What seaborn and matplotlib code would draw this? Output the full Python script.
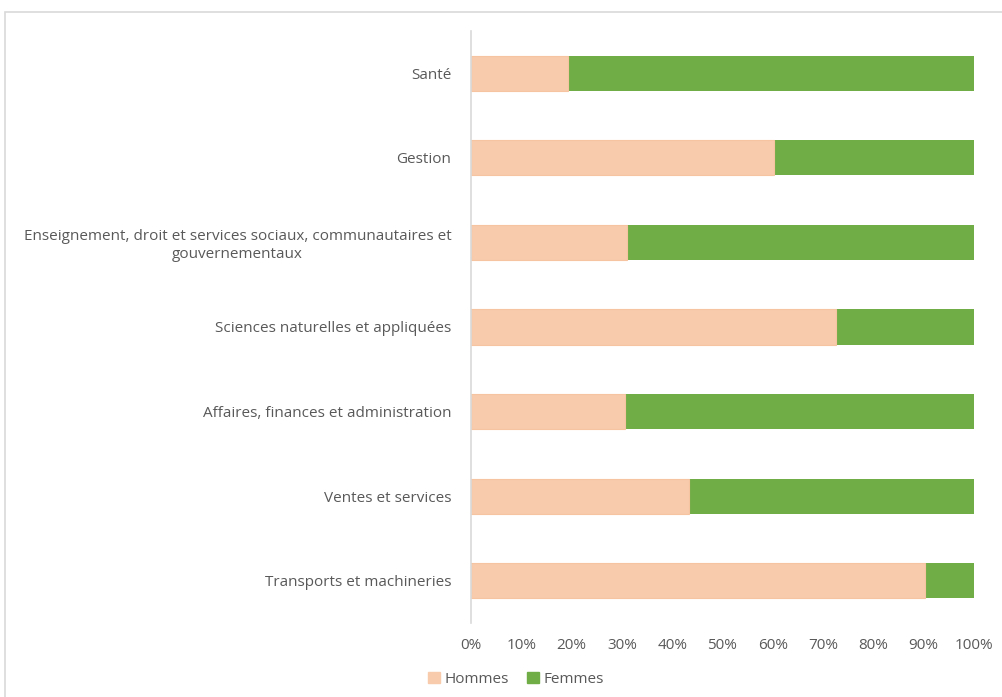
import matplotlib.pyplot as plt
import seaborn as sns
import pandas as pd
from matplotlib.patches import Rectangle, Patch

# données (% hommes / % femmes par catégorie)
categories = [
    "Santé",
    "Gestion",
    "Enseignement, droit et services sociaux, communautaires et\ngouvernementaux",
    "Sciences naturelles et appliquées",
    "Affaires, finances et administration",
    "Ventes et services",
    "Transports et machineries",
]
hommes = [19.3, 60.2, 31.0, 72.6, 30.6, 43.4, 90.3]
femmes = [80.7, 39.8, 69.0, 27.4, 69.4, 56.6, 9.7]

df = pd.DataFrame({"cat": categories, "hommes": hommes, "femmes": femmes})
df["total"] = df["hommes"] + df["femmes"]

c_h = "#F8CBAD"
c_f = "#70AD47"
grey = "#595959"

sns.set_style("white")
plt.rcParams["font.family"] = ["Open Sans", "DejaVu Sans"]

fig = plt.figure(figsize=(10.02, 6.97), dpi=100)
ax = fig.add_axes([0.470, 0.1062, 0.502, 0.8493])

# barres empilées : total (femmes) puis hommes par-dessus
sns.barplot(data=df, y="cat", x="total", color=c_f, saturation=1, width=0.415,
            ax=ax, orient="h", linewidth=0)
sns.barplot(data=df, y="cat", x="hommes", color=c_h, saturation=1, width=0.415,
            ax=ax, orient="h", edgecolor="#F6C4A0", linewidth=0.8)

ax.set_xlim(0, 100)
ax.set_xticks(range(0, 101, 10))
ax.set_xticklabels([f"{v}%" for v in range(0, 101, 10)])
ax.set_xlabel("")
ax.set_ylabel("")

for s in ["top", "right", "bottom"]:
    ax.spines[s].set_visible(False)
ax.spines["left"].set_color("#D9D9D9")
ax.spines["left"].set_linewidth(1.2)

ax.tick_params(axis="both", length=0, labelsize=11, colors=grey)
ax.tick_params(axis="y", pad=14)
ax.tick_params(axis="x", pad=11)
for lab in ax.get_yticklabels():
    lab.set_multialignment("center")

handles = [Patch(facecolor=c_h, edgecolor=c_h), Patch(facecolor=c_f, edgecolor=c_f)]
fig.legend(handles, ["Hommes", "Femmes"], loc="center", bbox_to_anchor=(0.515, 0.025),
           ncol=2, frameon=False, fontsize=11, labelcolor=grey,
           handlelength=0.75, handleheight=0.75, handletextpad=0.3, columnspacing=1.2)

# cadre du graphique
fig.patches.append(Rectangle((5 / 1002, -0.1), 1.2, 1.1 - 12 / 697,
                             transform=fig.transFigure, fill=False,
                             edgecolor="#D9D9D9", linewidth=1.2))

fig.savefig("out.png", dpi=100)
